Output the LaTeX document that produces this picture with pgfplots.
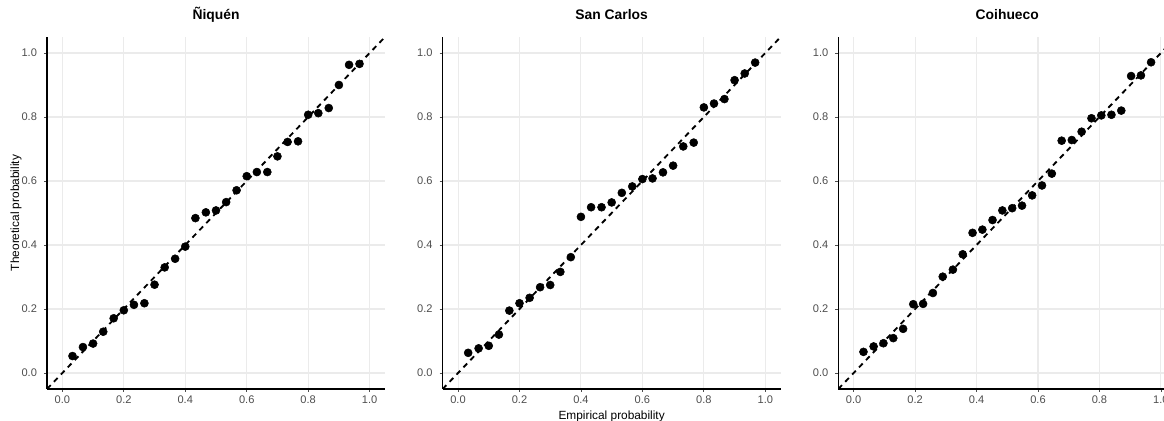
\documentclass[border=0pt]{standalone}
\usepackage{fontspec}
\setmainfont{Liberation Sans}
\usepackage{pgfplots}
\pgfplotsset{compat=1.18}
\definecolor{gridgray}{HTML}{EBEBEB}
\definecolor{tickgray}{HTML}{4D4D4D}

% P-P plots: empirical vs theoretical probability
\pgfplotsset{
  ppstyle/.style={
    scale only axis, width=253.5pt, height=264pt,
    xmin=-0.05, xmax=1.05, ymin=-0.05, ymax=1.05,
    axis x line*=bottom, axis y line*=left,
    axis line style={-, line width=0.8pt, black},
    xtick={0,0.2,0.4,0.6,0.8,1}, ytick={0,0.2,0.4,0.6,0.8,1},
    tick align=outside, major tick length=2.2pt,
    tick style={color=tickgray, line width=0.6pt},
    grid=major, major grid style={gridgray, line width=0.8pt},
    tick label style={font=\fontsize{8.3}{10}\selectfont, color=tickgray},
    xticklabel style={yshift=0.5pt},
    yticklabel style={xshift=-1.8pt},
    /pgf/number format/fixed, /pgf/number format/fixed zerofill,
    /pgf/number format/precision=1, /pgf/number format/assume math mode=true,
    title style={font=\bfseries\fontsize{10.4}{12}\selectfont,
      at={(axis description cs:0.5,1.0405)}, anchor=center},
    label style={font=\fontsize{8.9}{11}\selectfont},
    xlabel style={at={(axis description cs:0.5,-0.0767)}, anchor=center},
    ylabel style={at={(axis description cs:-0.0917,0.5)}, anchor=center},
  },
  pts/.style={only marks, mark=*, mark size=3pt, black},
  ref/.style={black, line width=1.4pt, dash pattern=on 4pt off 3.5pt},
}

\begin{document}
\begin{tikzpicture}
\begin{axis}[ppstyle, at={(35.25pt,24pt)}, anchor=south west,
  title={Ñiquén}, ylabel={Theoretical probability}]
\addplot[pts] coordinates {
(0.033,0.053) (0.067,0.081) (0.100,0.092) (0.133,0.129) (0.167,0.171)
(0.200,0.196) (0.233,0.213) (0.267,0.218) (0.300,0.276) (0.333,0.330)
(0.367,0.357) (0.400,0.395) (0.433,0.484) (0.467,0.502) (0.500,0.508)
(0.533,0.534) (0.567,0.571) (0.600,0.615) (0.633,0.628) (0.667,0.628)
(0.700,0.677) (0.733,0.722) (0.767,0.724) (0.800,0.807) (0.833,0.812)
(0.867,0.828) (0.900,0.900) (0.933,0.963) (0.967,0.966)};
\addplot[ref] coordinates {(-0.05,-0.05) (1.05,1.05)};
\end{axis}

\begin{axis}[ppstyle, at={(332pt,24pt)}, anchor=south west,
  title={San Carlos}, xlabel={Empirical probability}]
\addplot[pts] coordinates {
(0.033,0.063) (0.067,0.077) (0.100,0.085) (0.133,0.120) (0.167,0.195)
(0.200,0.218) (0.233,0.235) (0.267,0.268) (0.300,0.275) (0.333,0.316)
(0.367,0.362) (0.400,0.488) (0.433,0.518) (0.467,0.518) (0.500,0.533)
(0.533,0.563) (0.567,0.583) (0.600,0.606) (0.633,0.608) (0.667,0.627)
(0.700,0.648) (0.733,0.708) (0.767,0.720) (0.800,0.830) (0.833,0.842)
(0.867,0.856) (0.900,0.915) (0.933,0.936) (0.967,0.970)};
\addplot[ref] coordinates {(-0.05,-0.05) (1.05,1.05)};
\end{axis}

\begin{axis}[ppstyle, at={(628.7pt,24pt)}, anchor=south west,
  title={Coihueco}]
\addplot[pts] coordinates {
(0.032,0.066) (0.065,0.083) (0.097,0.093) (0.129,0.109) (0.161,0.138)
(0.194,0.215) (0.226,0.216) (0.258,0.250) (0.290,0.301) (0.323,0.323)
(0.355,0.371) (0.387,0.438) (0.419,0.448) (0.452,0.478) (0.484,0.508)
(0.516,0.515) (0.548,0.523) (0.581,0.555) (0.613,0.586) (0.645,0.623)
(0.677,0.726) (0.710,0.728) (0.742,0.754) (0.774,0.796) (0.806,0.805)
(0.839,0.807) (0.871,0.820) (0.903,0.928) (0.935,0.930) (0.968,0.971)};
\addplot[ref] coordinates {(-0.05,-0.05) (1.05,1.05)};
\end{axis}

\pgfresetboundingbox
\useasboundingbox (0,0) rectangle (873pt,315.75pt);
\end{tikzpicture}
\end{document}
